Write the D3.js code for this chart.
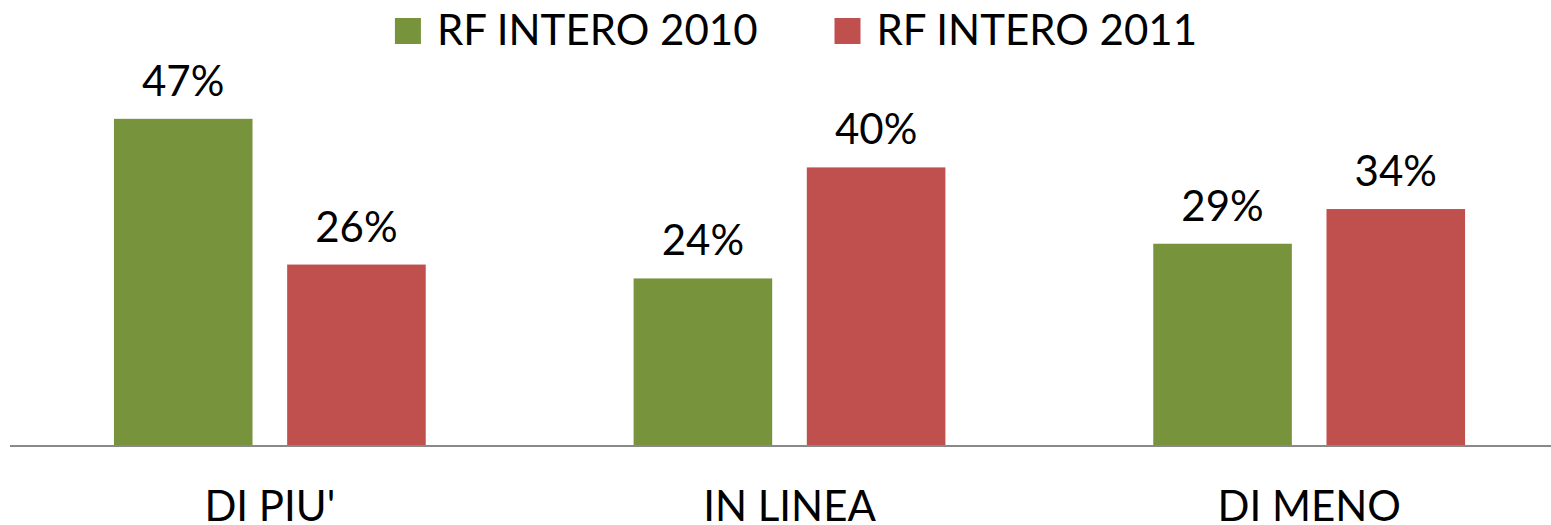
<!DOCTYPE html>
<html>
<head>
<meta charset="utf-8">
<script src="https://cdn.jsdelivr.net/npm/d3@7"></script>
<style>
  html, body { margin: 0; padding: 0; background: #fff; }
  svg { display: block; font-family: Lato, "Open Sans", sans-serif; }
</style>
</head>
<body>
<div id="svg-container"></div>
<script>
// data
const categories = ["DI PIU'", "IN LINEA", "DI MENO"];
const seriesNames = ["RF INTERO 2010", "RF INTERO 2011"];
const values2010 = [0.47, 0.24, 0.29];
const values2011 = [0.26, 0.40, 0.34];
const seriesColors = ["#77933C", "#C0504D"];

const width = 1551;
const height = 525;
const margin = { top: 98, right: -18, bottom: 80, left: 10 };
const fontSize = 42;

const svg = d3.select("#svg-container").append("svg")
  .attr("width", width)
  .attr("height", height);

const rows = categories.map((c, i) => ({
  cat: c,
  vals: [
    { key: seriesNames[0], v: values2010[i] },
    { key: seriesNames[1], v: values2011[i] }
  ]
}));

// scales
const x0 = d3.scaleBand()
  .domain(categories)
  .range([margin.left, width - margin.right])
  .paddingInner(0.4)
  .paddingOuter(0.2);

const x1 = d3.scaleBand()
  .domain(seriesNames)
  .range([0, x0.bandwidth()])
  .paddingInner(0.2);

const y = d3.scaleLinear()
  .domain([0, 0.5])
  .range([height - margin.bottom, margin.top]);

const color = d3.scaleOrdinal().domain(seriesNames).range(seriesColors);

// bars
const groups = svg.selectAll(".group")
  .data(rows)
  .enter()
  .append("g")
  .attr("class", "group")
  .attr("transform", d => `translate(${x0(d.cat)},0)`);

groups.selectAll("rect")
  .data(d => d.vals)
  .enter()
  .append("rect")
  .attr("x", d => x1(d.key))
  .attr("y", d => y(d.v))
  .attr("width", x1.bandwidth())
  .attr("height", d => y(0) - y(d.v))
  .attr("fill", d => color(d.key));

groups.selectAll(".value-label")
  .data(d => d.vals)
  .enter()
  .append("text")
  .attr("class", "value-label")
  .attr("x", d => x1(d.key) + x1.bandwidth() / 2)
  .attr("y", d => y(d.v) - 23)
  .attr("text-anchor", "middle")
  .style("font-size", fontSize + "px")
  .style("fill", "#000")
  .text(d => d3.format(".0%")(d.v));

// x axis
const xAxis = d3.axisBottom(x0).tickSize(0).tickPadding(45);

const axisG = svg.append("g")
  .attr("class", "x-axis")
  .attr("transform", `translate(0, ${y(0) + 1})`)
  .call(xAxis);

axisG.select(".domain")
  .attr("d", `M${margin.left},0H${width}`)
  .attr("stroke", "#898989")
  .attr("stroke-width", 2);

axisG.selectAll(".tick text")
  .style("font-size", fontSize + "px")
  .style("font-family", "Lato, 'Open Sans', sans-serif")
  .attr("fill", "#000")
  .attr("dy", "0.71em");

// legend
const legend = svg.append("g").attr("class", "legend");
const items = legend.selectAll(".legend-item")
  .data(seriesNames)
  .enter()
  .append("g")
  .attr("class", "legend-item");

items.append("rect")
  .attr("x", 0)
  .attr("y", 18)
  .attr("width", 26)
  .attr("height", 26)
  .attr("fill", d => color(d));

items.append("text")
  .attr("x", 42)
  .attr("y", 45)
  .style("font-size", fontSize + "px")
  .style("fill", "#000")
  .text(d => d);

let offset = 0;
const pos = [];
items.each(function () {
  pos.push(offset);
  const w = 42 + d3.select(this).select("text").node().getComputedTextLength();
  offset += w + 77;
});
const legendWidth = offset - 77;
const legendStart = 796 - legendWidth / 2;
items.attr("transform", (d, i) => `translate(${legendStart + pos[i]},0)`);
</script>
</body>
</html>
